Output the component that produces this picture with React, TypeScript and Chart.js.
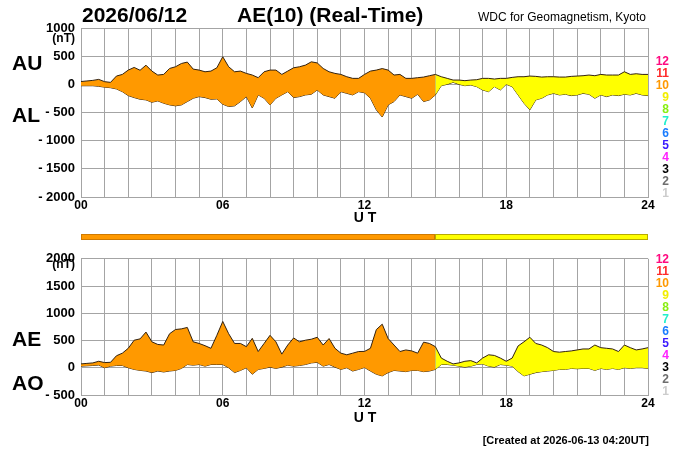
import { useEffect, useRef } from 'react';
import { Chart, registerables } from 'chart.js';

Chart.register(...registerables);

// ---------- data (15-minute steps, UT hours) ----------
const HOURS = [
  0, 0.25, 0.5, 0.75, 1, 1.25, 1.5, 1.75, 2, 2.25, 2.5, 2.75,
  3, 3.25, 3.5, 3.75, 4, 4.25, 4.5, 4.75, 5, 5.25, 5.5, 5.75,
  6, 6.25, 6.5, 6.75, 7, 7.25, 7.5, 7.75, 8, 8.25, 8.5, 8.75,
  9, 9.25, 9.5, 9.75, 10, 10.25, 10.5, 10.75, 11, 11.25, 11.5, 11.75,
  12, 12.25, 12.5, 12.75, 13, 13.25, 13.5, 13.75, 14, 14.25, 14.5, 14.75,
  15, 15.25, 15.5, 15.75, 16, 16.25, 16.5, 16.75, 17, 17.25, 17.5, 17.75,
  18, 18.25, 18.5, 18.75, 19, 19.25, 19.5, 19.75, 20, 20.25, 20.5, 20.75,
  21, 21.25, 21.5, 21.75, 22, 22.25, 22.5, 22.75, 23, 23.25, 23.5, 23.75,
  24,
];

const AU = [
  50, 60, 70, 88, 47, 35, 147, 176, 253, 300, 250, 340,
  235, 165, 176, 282, 312, 370, 395, 270, 253, 223, 235, 294,
  490, 312, 223, 235, 194, 165, 118, 223, 253, 253, 176, 235,
  294, 312, 341, 400, 380, 282, 223, 194, 176, 135, 106, 106,
  176, 235, 253, 280, 253, 165, 176, 106, 106, 118, 129, 153,
  176, 135, 106, 76, 76, 65, 76, 82, 106, 106, 94, 106,
  106, 123, 135, 135, 147, 141, 129, 135, 135, 129, 129, 141,
  147, 153, 165, 153, 176, 165, 165, 165, 223, 176, 188, 176,
  176,
];

const AL = [
  -25, -25, -25, -35, -50, -60, -82, -130, -200, -235, -265, -276,
  -318, -294, -335, -365, -382, -365, -306, -247, -218, -235, -265, -259,
  -353, -394, -382, -306, -218, -420, -188, -247, -365, -247, -188, -130,
  -235, -218, -188, -176, -100, -188, -218, -247, -130, -160, -188, -130,
  -150, -247, -453, -580, -365, -306, -188, -218, -247, -176, -306, -276,
  -188, -24, 0, 35, 0, -24, -12, -41, -100, -130, -41, -100,
  0, -41, -188, -335, -453, -276, -247, -188, -160, -188, -176, -200,
  -188, -160, -176, -247, -188, -218, -188, -200, -176, -188, -160, -188,
  -200,
];

const AE = [
  71, 80, 89, 119, 95, 100, 220, 268, 357, 506, 530, 655,
  476, 428, 417, 625, 702, 714, 740, 476, 446, 405, 357, 595,
  850, 625, 446, 446, 387, 540, 298, 446, 595, 476, 250, 417,
  547, 476, 506, 524, 560, 417, 536, 357, 268, 238, 268, 298,
  300, 357, 700, 800, 536, 417, 298, 327, 309, 268, 470, 446,
  387, 178, 119, 71, 89, 119, 131, 89, 178, 238, 226, 178,
  119, 178, 400, 476, 560, 446, 417, 369, 298, 286, 298, 309,
  327, 345, 345, 417, 369, 357, 345, 298, 417, 369, 327, 345,
  369,
];

const AO = [
  30, 35, 42, 50, 0, 30, 42, 42, 0, -30, -48, -60,
  -89, -60, -77, -60, -48, -12, 60, 48, 60, 30, 60, 60,
  60, 0, -89, -48, 0, -119, -30, -12, 12, -12, 12, 48,
  30, 42, 60, 89, 100, 30, 60, 12, -30, 0, -60, -30,
  5, -60, -119, -149, -89, -48, -60, -71, -48, -48, -71, -60,
  -30, 60, 60, 48, 30, 12, 30, 60, 71, 30, 12, 60,
  48, 30, -70, -149, -119, -89, -71, -60, -48, -30, -30, -12,
  -18, -12, -12, -48, -12, -30, -12, -30, 0, -12, 0, 0,
  -12,
];

// data-level bar: number of stations / quality level per time range
const BAR_SEGMENTS = [
  { from: 0, to: 15, level: 10 },
  { from: 15, to: 24, level: 9 },
];

const LEVELS = [12, 11, 10, 9, 8, 7, 6, 5, 4, 3, 2, 1];
const LEVEL_COLORS = [
  '#ff0a80', '#ff2a2a', '#ff9900', '#f2ee00', '#88ee11', '#22eecc',
  '#1a7dff', '#3a1aff', '#ff22ff', '#000000', '#6e6e6e', '#cccccc',
];
const LEVEL_FILL: Record<number, string> = { 10: '#ff9900', 9: '#ffff00' };
const LEVEL_EDGE: Record<number, string> = { 10: '#d07a00', 9: '#b8aa00' };

// axis ticks
const X_GRID_HOURS = [0, 1, 2, 3, 4, 5, 6, 7, 8, 9, 10, 11, 12, 13, 14, 15, 16, 17, 18, 19, 20, 21, 22, 23, 24];
const X_LABEL_HOURS = [0, 6, 12, 18, 24];
const X_LABELS = ['00', '06', '12', '18', '24'];
const TOP_Y_TICKS = [1000, 500, 0, -500, -1000, -1500, -2000];
const TOP_Y_LABELS = ['1000', '500', '0', '- 500', '- 1000', '- 1500', '- 2000'];
const BOT_Y_TICKS = [2000, 1500, 1000, 500, 0, -500];
const BOT_Y_LABELS = ['2000', '1500', '1000', '500', '0', '- 500'];

// ---------- styling ----------
const FONT = "'Liberation Sans', Arial, Helvetica, sans-serif";
const GRID = '#a4a4a4';
const LINE = '#33220f';

function levelAt(h: number): number {
  for (const s of BAR_SEGMENTS) if (h >= s.from && h < s.to) return s.level;
  return BAR_SEGMENTS[BAR_SEGMENTS.length - 1].level;
}

function makeDatasets(upper: number[], lower: number[]) {
  const up = HOURS.map((h, i) => ({ x: h, y: upper[i] }));
  const lo = HOURS.map((h, i) => ({ x: h, y: lower[i] }));
  return [
    {
      data: up,
      borderColor: LINE,
      borderWidth: 1,
      pointRadius: 0,
      fill: '+1',
      backgroundColor: LEVEL_FILL[10],
      segment: {
        backgroundColor: (ctx: any) => LEVEL_FILL[levelAt(ctx.p0.parsed.x)],
      },
    },
    {
      data: lo,
      borderColor: LINE,
      borderWidth: 1,
      pointRadius: 0,
      fill: false,
    },
  ];
}

function makeOptions(yTicks: number[], yLabels: string[], padTop: number, xHeight: number): any {
  return {
    responsive: false,
    maintainAspectRatio: false,
    animation: false,
    events: [],
    layout: { padding: { top: padTop, right: 52, left: 0, bottom: 0 } },
    plugins: { legend: { display: false }, tooltip: { enabled: false }, title: { display: false } },
    elements: { point: { radius: 0 }, line: { tension: 0 } },
    scales: {
      x: {
        type: 'linear',
        min: 0,
        max: 24,
        afterBuildTicks: (s: any) => {
          s.ticks = X_GRID_HOURS.map((v) => ({ value: v }));
        },
        afterFit: (s: any) => {
          s.height = xHeight;
        },
        ticks: {
          autoSkip: false,
          maxRotation: 0,
          padding: 1,
          color: '#000',
          font: { family: FONT, size: 12, weight: 'bold' },
          callback: (v: number) => {
            const i = X_LABEL_HOURS.indexOf(v);
            return i >= 0 ? X_LABELS[i] : '';
          },
        },
        grid: { color: GRID, lineWidth: 1, drawTicks: false },
        border: { color: GRID, width: 1 },
      },
      y: {
        type: 'linear',
        min: yTicks[yTicks.length - 1],
        max: yTicks[0],
        afterBuildTicks: (s: any) => {
          s.ticks = yTicks.map((v) => ({ value: v }));
        },
        afterFit: (s: any) => {
          s.width = 81;
        },
        ticks: {
          padding: 6,
          color: '#000',
          font: { family: FONT, size: 13, weight: 'bold' },
          callback: (v: number) => {
            const i = yTicks.indexOf(v);
            return i >= 0 ? yLabels[i] : '';
          },
        },
        grid: { color: GRID, lineWidth: 1, drawTicks: false },
        border: { color: GRID, width: 1 },
      },
    },
  };
}

const levelBarPlugin = {
  id: 'levelBar',
  afterDraw(chart: any) {
    const ctx = chart.ctx;
    const xs = chart.scales.x;
    ctx.save();
    for (const seg of BAR_SEGMENTS) {
      const x0 = Math.round(xs.getPixelForValue(seg.from));
      const x1 = Math.round(xs.getPixelForValue(seg.to));
      ctx.fillStyle = LEVEL_FILL[seg.level];
      ctx.fillRect(x0, 234, x1 - x0, 6);
      ctx.strokeStyle = LEVEL_EDGE[seg.level];
      ctx.lineWidth = 1;
      ctx.strokeRect(x0 + 0.5, 234.5, x1 - x0 - 1, 5);
    }
    ctx.restore();
  },
};

type LabelProps = {
  text: string;
  x: number;
  baseline: number;
  size: number;
  bold?: boolean;
  color?: string;
  align?: 'left' | 'right' | 'center';
};

function Label({ text, x, baseline, size, bold = true, color = '#000', align = 'left' }: LabelProps) {
  const top = baseline - 0.8467 * size;
  const style: any = {
    position: 'absolute',
    top,
    fontFamily: FONT,
    fontSize: size,
    lineHeight: `${size}px`,
    fontWeight: bold ? 'bold' : 'normal',
    color,
    whiteSpace: 'pre',
  };
  if (align === 'left') style.left = x;
  else if (align === 'right') {
    style.right = 700 - x;
    style.textAlign = 'right';
  } else {
    style.left = x - 100;
    style.width = 200;
    style.textAlign = 'center';
  }
  return <div style={style}>{text}</div>;
}

export default function App() {
  const topRef = useRef<HTMLCanvasElement | null>(null);
  const botRef = useRef<HTMLCanvasElement | null>(null);

  useEffect(() => {
    const c1 = new Chart(topRef.current as HTMLCanvasElement, {
      type: 'line',
      data: { datasets: makeDatasets(AU, AL) as any },
      options: makeOptions(TOP_Y_TICKS, TOP_Y_LABELS, 28, 48),
      plugins: [levelBarPlugin],
    });
    const c2 = new Chart(botRef.current as HTMLCanvasElement, {
      type: 'line',
      data: { datasets: makeDatasets(AE, AO) as any },
      options: makeOptions(BOT_Y_TICKS, BOT_Y_LABELS, 9, 55),
    });
    return () => {
      c1.destroy();
      c2.destroy();
    };
  }, []);

  return (
    <div
      style={{
        position: 'fixed',
        left: 0,
        top: 0,
        width: 700,
        height: 450,
        background: '#fff',
        overflow: 'hidden',
      }}
    >
      <canvas
        ref={topRef}
        width={700}
        height={245}
        style={{ position: 'absolute', left: 0, top: 0, width: 700, height: 245 }}
      />
      <canvas
        ref={botRef}
        width={700}
        height={205}
        style={{ position: 'absolute', left: 0, top: 245, width: 700, height: 205 }}
      />

      <Label text="2026/06/12" x={82} baseline={22} size={21} />
      <Label text="AE(10) (Real-Time)" x={237} baseline={22} size={21} />
      <Label text="WDC for Geomagnetism, Kyoto" x={646} baseline={21} size={12} bold={false} align="right" />

      <Label text="AU" x={12} baseline={70} size={21} />
      <Label text="AL" x={12} baseline={122} size={21} />
      <Label text="(nT)" x={75} baseline={42} size={12} align="right" />
      <Label text="U T" x={365} baseline={222} size={14} align="center" />

      <Label text="AE" x={12} baseline={346} size={21} />
      <Label text="AO" x={12} baseline={390} size={21} />
      <Label text="(nT)" x={75} baseline={268} size={12} align="right" />
      <Label text="U T" x={365} baseline={422} size={14} align="center" />

      {LEVELS.map((lv, i) => (
        <Label key={`t${lv}`} text={String(lv)} x={669} baseline={65.5 + 12 * i} size={12} color={LEVEL_COLORS[i]} align="right" />
      ))}
      {LEVELS.map((lv, i) => (
        <Label key={`b${lv}`} text={String(lv)} x={669} baseline={263.5 + 12 * i} size={12} color={LEVEL_COLORS[i]} align="right" />
      ))}

      <Label text="[Created at 2026-06-13 04:20UT]" x={649} baseline={444} size={11} align="right" />
    </div>
  );
}
